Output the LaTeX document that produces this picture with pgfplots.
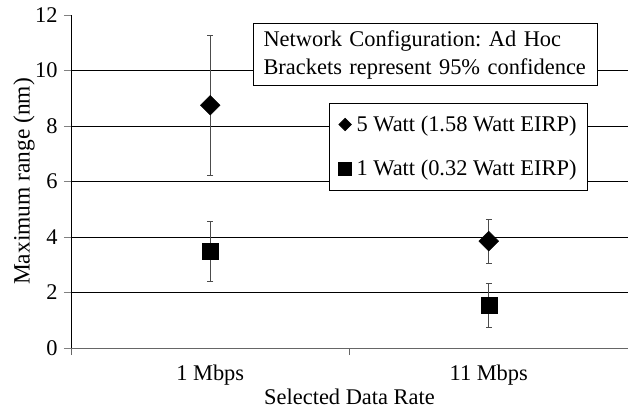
\documentclass[border=0pt]{standalone}
\usepackage{pgfplots}
\pgfplotsset{compat=1.18}
\usepackage{fontspec}
\setmainfont{Liberation Serif}
\frenchspacing

\begin{document}
\begin{tikzpicture}[font=\fontsize{22.5}{27}\selectfont]
\path[use as bounding box] (-71bp,-69bp) rectangle (557bp,348bp);
\begin{axis}[
  scale only axis, width=557bp, height=333bp,
  at={(0,0)}, anchor=south west,
  xmin=0, xmax=2, ymin=0, ymax=12,
  /pgf/number format/assume math mode=true,
  axis lines*=left,
  x axis line style={black!60, line width=0.8bp},
  y axis line style={black, line width=0.8bp},
  tick align=outside,
  major tick length=7bp,
  tick style={line width=0.8bp},
  xtick={0,1,2}, xticklabels={},
  x tick style={black!60},
  extra x ticks={0.5,1.5},
  extra x tick labels={1 Mbps,11 Mbps},
  extra x tick style={major tick length=0pt, tick label style={yshift=-13bp}},
  ytick={0,2,...,10},
  extra y ticks={12},
  extra y tick style={grid=none},
  ymajorgrids,
  grid style={black, line width=0.7bp},
  yticklabel style={xshift=-3bp},
  xlabel={Selected Data Rate},
  xlabel style={at={(axis description cs:0.5,0)}, anchor=north, yshift=-37bp},
  ylabel={Maximum range (nm)},
  ylabel style={at={(axis description cs:-0.0844,0.5)}, anchor=center,
    font=\fontsize{23.5}{27}\selectfont},
  legend style={at={(0.928,0.737)}, anchor=north east, draw=black, fill=white,
    line width=0.8bp, inner xsep=9bp, inner ysep=11bp, row sep=23bp,
    font=\fontsize{22.5}{27}\selectfont,
    /tikz/every odd column/.append style={column sep=3bp}},
  legend cell align=left,
  error bars/error bar style={black!70, line width=0.8bp},
  error bars/error mark=-,
  error bars/error mark options={rotate=90, black!70, mark size=3bp, line width=0.8bp},
]
\addplot+[only marks, mark=square*, mark options={rotate=45, black, fill=black}, mark size=7bp,
  legend image post style={mark size=4.3bp},
  error bars/.cd, y dir=both, y explicit]
  coordinates {
    (0.5,8.75) += (0,2.52) -= (0,2.53)
    (1.5,3.85) += (0,0.80) -= (0,0.80)
  };
\addlegendentry{5 Watt (1.58 Watt EIRP)}
\addplot+[only marks, mark=square*, mark options={black, fill=black}, mark size=8bp,
  legend image post style={mark size=6.5bp},
  error bars/.cd, y dir=both, y explicit]
  coordinates {
    (0.5,3.50) += (0,1.05) -= (0,1.09)
    (1.5,1.56) += (0,0.76) -= (0,0.80)
  };
\addlegendentry{1 Watt (0.32 Watt EIRP)}
\node[draw=black, fill=white, line width=0.8bp, anchor=north west,
  text width=324bp, inner xsep=10bp, inner ysep=7bp, align=left,
  font=\fontsize{22.5}{28}\selectfont]
  at (rel axis cs:0.327,0.976)
  {Network Configuration: Ad Hoc\\Brackets represent 95\% confidence};
\end{axis}
\end{tikzpicture}
\end{document}
